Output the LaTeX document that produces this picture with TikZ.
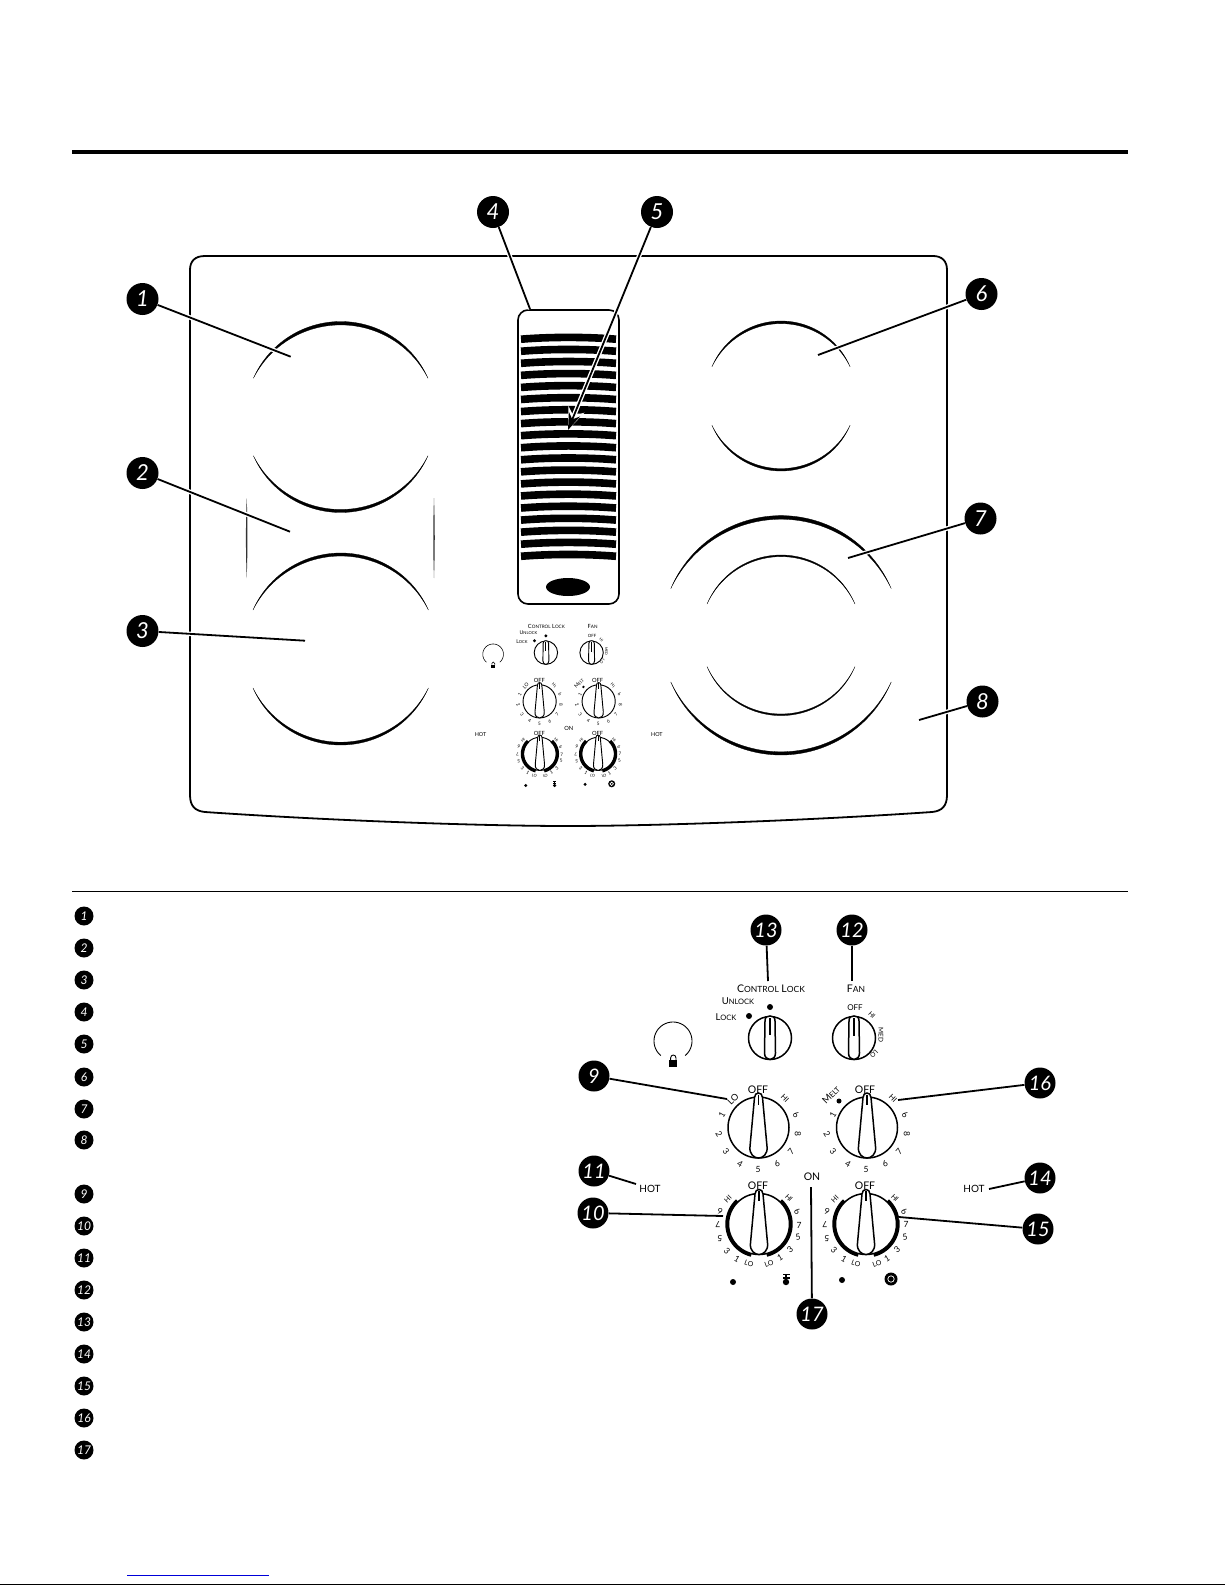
\documentclass[tikz,border=0pt]{standalone}
\usepackage{fontspec}
\setmainfont{Lato}
\usetikzlibrary{arrows.meta}
\newcounter{lb}
\tikzset{
  x=1pt,y=-1pt,
  badge/.style={circle,fill=black,text=white,inner sep=0pt,minimum size=32pt,font=\fontsize{22}{22}\selectfont\itshape},
  midbadge/.style={badge,minimum size=31pt,font=\fontsize{20}{20}\selectfont\itshape},
  legendbadge/.style={badge,minimum size=19pt,font=\fontsize{12}{12}\selectfont\itshape},
  leader/.style={line width=1.8pt,preaction={draw,white,line width=4.5pt}},
  lbl/.style={inner sep=0pt,transform shape},
  rim/.style={line width=1.8pt,line join=round},
}
% tapered arc: cx cy r from to thickness
\newcommand\taper[6]{%
  \pgfmathsetmacro\tk{180/((#5)-(#4))}
  \fill[draw=black,line width=.3pt] plot[samples=70,domain=#4:#5] ({#1+#3*cos(\x)},{#2-#3*sin(\x)})
   -- plot[samples=70,domain=#5:#4] ({#1+(#3-#6*sin(\tk*(\x-(#4))))*cos(\x)},{#2-(#3-#6*sin(\tk*(\x-(#4))))*sin(\x)}) -- cycle;}
\newcommand\burner[6]{% cx cy r half-angle topthick botthick
  \pgfmathsetmacro\aa{180-#4}\pgfmathsetmacro\ab{180+#4}\pgfmathsetmacro\ac{360-#4}
  \taper{#1}{#2}{#3}{#4}{\aa}{#5}%
  \taper{#1}{#2}{#3}{\ab}{\ac}{#6}}
\newcommand\lab[5][0]{\stepcounter{lb}\node[lbl,rotate=#1,font=\fontsize{#4}{#4}\selectfont] (lb\arabic{lb}) at (#2,#3) {#5};}
\newcommand\dg[4][0]{\lab[#1]{#2}{#3}{8.5}{#4}}
\newcommand\sct[2]{{\fontsize{10.5}{10.5}\selectfont #1}{\fontsize{8.5}{8.5}\selectfont #2}}
\newcommand\sctm[2]{{\fontsize{9.5}{9.5}\selectfont #1}{\fontsize{7.5}{7.5}\selectfont #2}}
\newcommand\knob[4]{% cx cy r lw
  \begin{scope}[shift={(#1,#2)},line width=#4pt]
  \draw (0,0) circle[radius=#3];
  \draw[fill=white] (-4,-30) .. controls (-4,-33) and (-2,-34.5) .. (0,-34.5) .. controls (2,-34.5) and (4,-33) .. (4,-30)
     -- (8.5,19) .. controls (9.5,27) and (4,#3) .. (0,#3) .. controls (-4,#3) and (-9.5,27) .. (-8.5,19) -- cycle;
  \draw (0,-33) -- (0,-23);
  \end{scope}}
\newcommand\ring[2]{% cx cy
  \begin{scope}[shift={(#1,#2)}]
  \draw[line width=3.4pt] plot[samples=40,domain=43:166] ({32*sin(\x)},{-32*cos(\x)});
  \draw[line width=3.4pt] plot[samples=40,domain=43:166] ({-32*sin(\x)},{-32*cos(\x)});
  \end{scope}}
\newcommand\barknob[4]{% cx cy innerlineend lw
  \begin{scope}[shift={(#1,#2)},line width=#4pt]
  \draw (0,0) circle[radius=21.5];
  \draw[fill=white] (-5,-17) .. controls (-5,-21) and (-3,-22) .. (0,-22) .. controls (3,-22) and (5,-21) .. (5,-17)
     -- (5.5,15) .. controls (5.5,19) and (3,21.5) .. (0,21.5) .. controls (-3,21.5) and (-5.5,19) .. (-5.5,15) -- cycle;
  \draw (0,-20) -- (0,#3);
  \end{scope}}
\newcommand\panel[1]{% lw factor
  \pgfmathsetmacro\pw{1.5*#1}
  \pgfmathsetmacro\pt{0.9*#1}
  % padlock ring
  \draw[line width=\pt pt] plot[samples=50,domain=-140:140] ({673+19*sin(\x)},{1041-19*cos(\x)});
  \fill (669.3,1060) rectangle (677.3,1066.7);
  \draw[line width=\pt pt] (670.6,1060) -- (670.6,1058) .. controls (670.6,1054) and (676,1054) .. (676,1058) -- (676,1060);
  % labels top
  \lab{771}{989}{10}{\sct{C}{ONTROL} \sct{L}{OCK}}
  \lab{856}{989}{10}{\sct{F}{AN}}
  \lab{738}{1001}{9}{\sctm{U}{NLOCK}}
  \lab{726}{1017}{9}{\sctm{L}{OCK}}
  \fill (770,1007) circle[radius=3];
  \fill (749,1016) circle[radius=3];
  \barknob{770}{1038}{-3}{\pw}
  \barknob{854}{1038}{-2}{\pw}
  \lab{855}{1008}{8}{OFF}
  \lab[-45]{872}{1015}{6.5}{HI}
  \lab[-90]{881}{1035}{6.5}{MED}
  \lab[-135]{874}{1054}{6.5}{LO}
  % knobs
  \knob{758.5}{1127.5}{30.5}{\pw}
  \knob{867}{1127.5}{30.5}{\pw}
  \ring{759}{1224}\ring{866}{1224}
  \knob{759}{1224}{30.5}{\pw}
  \knob{866}{1224}{30.5}{\pw}
  % knob 9 labels
  \lab{758}{1089.5}{10.5}{OFF}
  \lab[45]{733}{1099}{9}{LO}
  \dg[60]{722}{1115}{1}\dg[-60]{719}{1134}{2}\dg[-50]{726}{1151}{3}\dg[-30]{740}{1164}{4}\dg{758}{1169}{5}
  \dg[25]{777}{1164}{6}\dg[50]{791}{1152}{7}\dg[-90]{798}{1134}{8}\dg[-40]{796}{1115}{6}
  \lab[-45]{785}{1098}{7.5}{HI}
  % knob 16 labels
  \lab{865}{1089.5}{10.5}{OFF}
  \lab[45]{831}{1095}{9.5}{\sctm{M}{ELT}}
  \fill (839,1101) circle[radius=2.5];
  \dg[60]{833}{1115}{1}\dg[-60]{827}{1134}{2}\dg[-50]{833}{1151}{3}\dg[-30]{848}{1164}{4}\dg{866}{1169}{5}
  \dg[25]{885}{1164}{6}\dg[50]{899}{1152}{7}\dg[-90]{907}{1134}{8}\dg[-40]{905}{1115}{6}
  \lab[-45]{893}{1098}{7.5}{HI}
  % knob 10 labels
  \lab{758}{1186}{10.5}{OFF}
  \lab[45]{728}{1199}{7}{HI}\lab[-45]{789}{1198}{7}{HI}
  \dg[160]{720}{1211}{6}\dg[180]{718}{1225}{7}\dg[180]{720}{1238}{5}\dg[-45]{727}{1251}{3}\dg[-30]{737}{1259}{1}
  \lab[-20]{749}{1264}{7}{LO}
  \dg[-35]{797}{1211}{6}\dg{799}{1225}{7}\dg[10]{798}{1237}{5}\dg[40]{790}{1250}{3}\dg[30]{780}{1258}{1}
  \lab[20]{769}{1264}{7}{LO}
  % knob 15 labels
  \lab{865}{1186}{10.5}{OFF}
  \lab[45]{835}{1199}{7}{HI}\lab[-45]{895}{1198}{7}{HI}
  \dg[160]{827}{1211}{6}\dg[180]{825}{1225}{7}\dg[180]{827}{1238}{5}\dg[-45]{834}{1250}{3}\dg[-30]{844}{1259}{1}
  \lab[-20]{856}{1264}{7}{LO}
  \dg[-35]{904}{1211}{6}\dg{906}{1224}{7}\dg[10]{905}{1237}{5}\dg[40]{897}{1250}{3}\dg[30]{887}{1259}{1}
  \lab[20]{877}{1264}{7}{LO}
  % others
  \lab{650}{1189}{10}{HOT}
  \lab{974}{1189}{10}{HOT}
  \lab{812}{1177}{10.5}{ON}
  \fill (733,1282) circle[radius=3];
  \fill (842,1280) circle[radius=3];
  \fill (786,1282) circle[radius=3.2];
  \fill (782.5,1273.5) rectangle (789.5,1275);
  \fill (785,1275) rectangle (787,1278);
  \fill (782.5,1277) rectangle (789.5,1278.5);
  \fill (891,1279) circle[radius=6.5];
  \draw[white,line width=.7pt] (891,1279) circle[radius=3.2];
}
\begin{document}
\begin{tikzpicture}
\useasboundingbox (0,0) rectangle (1225,1585);
\fill[white] (0,0) rectangle (1225,1585);
% rules
\draw[line width=4pt] (72,151.6) -- (1128,151.6);
\draw[line width=1.8pt] (72,891.5) -- (1128,891.5);
\draw[blue!85!black,line width=1.3pt] (127,1575.5) -- (269,1575.5);
\draw[line width=1.5pt] (0,1584.3) -- (1225,1584.3);
% cooktop
\draw[rim] (205,256) -- (933,256) .. controls (942,256) and (947,261) .. (947,270)
  -- (947,795) .. controls (947,806) and (942,811) .. (932,812)
  .. controls (800,821) and (650,826) .. (568,826) .. controls (486,826) and (336,821) .. (205,812)
  .. controls (195,811) and (190,806) .. (190,795) -- (190,270) .. controls (190,261) and (195,256) .. (205,256) -- cycle;
% burners
\burner{340.7}{417}{95.5}{24}{3.4}{3}
\burner{340.7}{649}{96}{24}{3}{2.8}
\burner{781}{396}{75}{23}{2.6}{2.4}
\burner{781}{635.3}{119.7}{23}{3.6}{3.2}
\burner{781}{635.3}{80.3}{23}{1.6}{1.6}
\fill[black!80] (246.7,498) .. controls (247.7,525) and (247.7,550) .. (246.7,578) .. controls (245.7,550) and (245.7,525) .. cycle;
\fill[black!80] (434,498) .. controls (435,525) and (435,550) .. (434,578) .. controls (433,550) and (433,525) .. cycle;
% vent
\draw[line width=1.6pt,rounded corners=10pt] (518,310) rectangle (619,604);
\foreach \i in {0,...,18}{
  \pgfmathsetmacro\yy{338+12.06*\i}
  \draw[line width=7.6pt] (521,\yy+1.2) .. controls (550,\yy-1.2) and (587,\yy-1.2) .. (616,\yy+1.2);
}
\fill (568,587) ellipse[x radius=22,y radius=9];
% mini control panel
\begin{scope}[shift={(127,88)},scale=.544]
  \panel{.62}
\end{scope}
% large control panel
\panel{1}
% callouts
\foreach \n/\x/\y in {1/142.5/299,2/142.5/473,3/142.5/631,4/493/212,5/657/212,6/981.5/294,7/980.5/518.5,8/982.5/701.5}
  \node[badge] (b\n) at (\x,\y) {\n};
\foreach \n/\x/\y in {9/594/1076,10/593/1213,11/594/1171,12/852/930,13/766/930,14/1040/1178,15/1038/1229,16/1040/1083,17/812/1314}
  \node[midbadge] (b\n) at (\x,\y) {\n};
\foreach \n/\x/\y in {1/290.7/356.7,2/290/531.7,3/305/640.7,4/530/309,5/568/430,6/818/355,7/848/558,8/919/720,9/727/1099,10/723/1216,11/636/1184,12/852/981,13/768/981,14/989/1189,15/899/1217,16/898/1100,17/811/1187}
  \coordinate (e\n) at (\x,\y);
\foreach \n in {1,2,3,4,6,7,8,9,10,11,12,13,14,15,16,17}
  \draw[leader] (b\n) -- (e\n);
\draw[white,line width=4.5pt,-{Stealth[length=22pt,width=17pt]}] (b5) -- (e5);
\draw[line width=1.8pt,-{Stealth[length=17pt,width=12pt]}] (b5) -- (e5);
% legend badges
\foreach \n/\y in {1/916,2/948,3/980,4/1012,5/1044,6/1077,7/1109,8/1140,9/1194,10/1226,11/1258,12/1290,13/1322,14/1354,15/1386,16/1418,17/1450}
  \node[legendbadge] (L\n) at (84,\y) {\n};
\end{tikzpicture}
\end{document}
